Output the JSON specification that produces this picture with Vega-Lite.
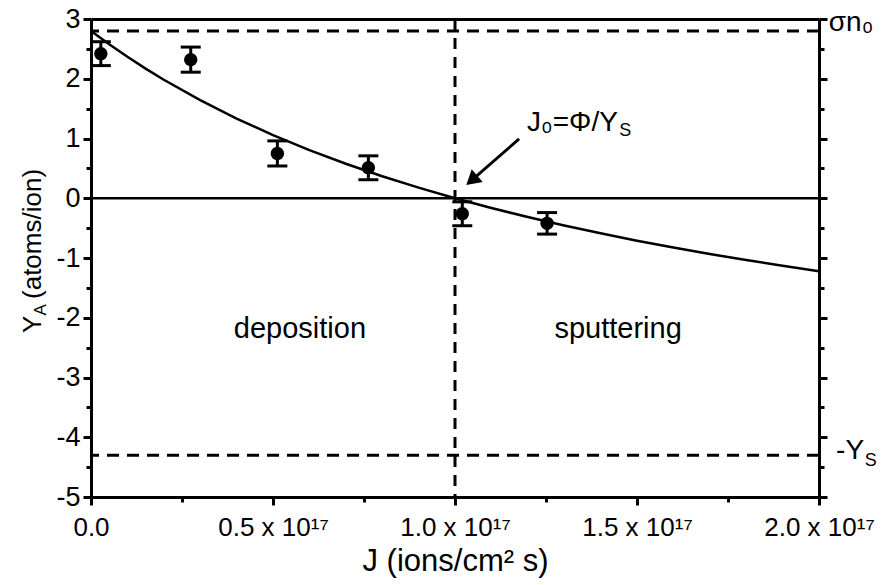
{
  "$schema": "https://vega.github.io/schema/vega-lite/v6.json",
  "width": 728,
  "height": 478,
  "autosize": "none",
  "padding": {"left": 91, "top": 19, "right": 70, "bottom": 88},
  "background": "white",
  "config": {
    "view": {"stroke": null},
    "font": "Liberation Sans",
    "axis": {"grid": false, "domainColor": "black", "tickColor": "black", "labelColor": "black", "titleColor": "black", "domainWidth": 3, "tickWidth": 3}
  },
  "datasets": {
    "pts": [
      {"J": 0.027, "Y": 2.42, "lo": 2.22, "hi": 2.62},
      {"J": 0.274, "Y": 2.32, "lo": 2.11, "hi": 2.53},
      {"J": 0.512, "Y": 0.75, "lo": 0.54, "hi": 0.96},
      {"J": 0.762, "Y": 0.51, "lo": 0.31, "hi": 0.71},
      {"J": 1.02, "Y": -0.26, "lo": -0.46, "hi": -0.06},
      {"J": 1.253, "Y": -0.42, "lo": -0.6, "hi": -0.24}
    ],
    "curve": [
      {"J": 0.0, "Y": 2.8}, {"J": 0.05, "Y": 2.577}, {"J": 0.1, "Y": 2.367}, {"J": 0.15, "Y": 2.17},
      {"J": 0.2, "Y": 1.983}, {"J": 0.3, "Y": 1.641}, {"J": 0.4, "Y": 1.334}, {"J": 0.5, "Y": 1.057},
      {"J": 0.6, "Y": 0.806}, {"J": 0.7, "Y": 0.578}, {"J": 0.8, "Y": 0.369}, {"J": 0.9, "Y": 0.177},
      {"J": 1.0, "Y": 0.0}, {"J": 1.1, "Y": -0.163}, {"J": 1.2, "Y": -0.315}, {"J": 1.3, "Y": -0.456},
      {"J": 1.4, "Y": -0.587}, {"J": 1.5, "Y": -0.71}, {"J": 1.6, "Y": -0.825}, {"J": 1.7, "Y": -0.933},
      {"J": 1.8, "Y": -1.034}, {"J": 1.9, "Y": -1.129}, {"J": 2.0, "Y": -1.22}
    ],
    "hdash": [{"Y": 2.8}, {"Y": -4.3}],
    "ctr": [
      {"x": 0.574, "y": -2.34, "t": "deposition"},
      {"x": 1.448, "y": -2.34, "t": "sputtering"}
    ],
    "lft": [
      {"x": 1.198, "y": 1.126, "t": "J₀=Φ/Y"},
      {"x": 2.027, "y": 2.8, "t": "σn₀"},
      {"x": 2.047, "y": -4.364, "t": "-Y"}
    ],
    "sub": [
      {"x": 1.451, "y": 1.042, "t": "S"},
      {"x": 2.126, "y": -4.481, "t": "S"}
    ]
  },
  "layer": [
    {
      "data": {"name": "pts"},
      "mark": {"type": "circle", "size": 180, "opacity": 1, "color": "black"},
      "encoding": {
        "x": {"field": "J", "type": "quantitative",
          "scale": {"domain": [0, 2], "nice": false, "zero": false},
          "axis": {
            "orient": "bottom",
            "values": [0, 0.25, 0.5, 0.75, 1, 1.25, 1.5, 1.75, 2],
            "labelExpr": "datum.value == 0 ? '0.0' : (datum.value % 0.5 == 0 ? format(datum.value, '.1f') + ' x 10¹⁷' : '')",
            "tickSize": {"condition": {"test": "datum.value % 0.5 == 0", "value": 8}, "value": 5},
            "labelFontSize": 26, "labelPadding": 9, "labelFlush": false, "labelOverlap": false,
            "title": "J (ions/cm² s)", "titleFontSize": 31, "titleFontWeight": "normal", "titlePadding": 6
          }},
        "y": {"field": "Y", "type": "quantitative",
          "scale": {"domain": [-5, 3], "nice": false, "zero": false},
          "axis": {
            "orient": "left",
            "values": [-5, -4.5, -4, -3.5, -3, -2.5, -2, -1.5, -1, -0.5, 0, 0.5, 1, 1.5, 2, 2.5, 3],
            "labelExpr": "datum.value % 1 == 0 ? '' + datum.value : ''",
            "tickSize": {"condition": {"test": "datum.value % 1 == 0", "value": 8}, "value": 5},
            "labelFontSize": 27, "labelPadding": 3, "labelOverlap": false, "labelFlush": false,
            "title": null
          }}
      }
    },
    {
      "data": {"name": "curve"},
      "mark": {"type": "line", "color": "black", "strokeWidth": 2.5},
      "encoding": {
        "x": {"field": "J", "type": "quantitative",
          "axis": {"orient": "top", "ticks": false, "labels": false, "title": null}},
        "y": {"field": "Y", "type": "quantitative",
          "axis": {
            "orient": "right",
            "values": [-5, -4.5, -4, -3.5, -3, -2.5, -2, -1.5, -1, -0.5, 0, 0.5, 1, 1.5, 2, 2.5, 3],
            "labels": false,
            "tickSize": {"condition": {"test": "datum.value % 1 == 0", "value": 8}, "value": 5},
            "title": null
          }}
      }
    },
    {
      "data": {"values": [{"Y": 0}]},
      "mark": {"type": "rule", "color": "black", "strokeWidth": 2.5},
      "encoding": {"y": {"field": "Y", "type": "quantitative", "axis": null}}
    },
    {
      "data": {"name": "hdash"},
      "mark": {"type": "rule", "color": "black", "strokeWidth": 3, "strokeDash": [12, 8]},
      "encoding": {"y": {"field": "Y", "type": "quantitative", "axis": null}}
    },
    {
      "data": {"values": [{"J": 1.0}]},
      "mark": {"type": "rule", "color": "black", "strokeWidth": 3, "strokeDash": [11, 8]},
      "encoding": {"x": {"field": "J", "type": "quantitative", "axis": null}}
    },
    {
      "data": {"name": "pts"},
      "mark": {"type": "rule", "color": "black", "strokeWidth": 3},
      "encoding": {
        "x": {"field": "J", "type": "quantitative", "axis": null},
        "y": {"field": "lo", "type": "quantitative", "axis": null},
        "y2": {"field": "hi"}
      }
    },
    {
      "data": {"name": "pts"},
      "mark": {"type": "tick", "color": "black", "orient": "horizontal", "size": 20, "thickness": 3, "opacity": 1},
      "encoding": {
        "x": {"field": "J", "type": "quantitative", "axis": null},
        "y": {"field": "lo", "type": "quantitative", "axis": null}
      }
    },
    {
      "data": {"name": "pts"},
      "mark": {"type": "tick", "color": "black", "orient": "horizontal", "size": 20, "thickness": 3, "opacity": 1},
      "encoding": {
        "x": {"field": "J", "type": "quantitative", "axis": null},
        "y": {"field": "hi", "type": "quantitative", "axis": null}
      }
    },
    {
      "data": {"values": [{"x1": 1.176, "y1": 0.992, "x2": 1.04, "y2": 0.27}]},
      "mark": {"type": "rule", "color": "black", "strokeWidth": 3},
      "encoding": {
        "x": {"field": "x1", "type": "quantitative", "axis": null},
        "y": {"field": "y1", "type": "quantitative", "axis": null},
        "x2": {"field": "x2"},
        "y2": {"field": "y2"}
      }
    },
    {
      "data": {"values": [{"x": 1.046, "y": 0.3}]},
      "mark": {"type": "point", "shape": "triangle-up", "filled": true, "color": "black", "opacity": 1, "size": 280, "angle": 229},
      "encoding": {
        "x": {"field": "x", "type": "quantitative", "axis": null},
        "y": {"field": "y", "type": "quantitative", "axis": null}
      }
    },
    {
      "data": {"name": "ctr"},
      "mark": {"type": "text", "fontSize": 29, "color": "black", "baseline": "alphabetic", "align": "center"},
      "encoding": {
        "x": {"field": "x", "type": "quantitative", "axis": null},
        "y": {"field": "y", "type": "quantitative", "axis": null},
        "text": {"field": "t"}
      }
    },
    {
      "data": {"name": "lft"},
      "mark": {"type": "text", "fontSize": 28, "color": "black", "baseline": "alphabetic", "align": "left"},
      "encoding": {
        "x": {"field": "x", "type": "quantitative", "axis": null},
        "y": {"field": "y", "type": "quantitative", "axis": null},
        "text": {"field": "t"}
      }
    },
    {
      "data": {"name": "sub"},
      "mark": {"type": "text", "fontSize": 18, "color": "black", "baseline": "alphabetic", "align": "left"},
      "encoding": {
        "x": {"field": "x", "type": "quantitative", "axis": null},
        "y": {"field": "y", "type": "quantitative", "axis": null},
        "text": {"field": "t"}
      }
    },
    {
      "data": {"values": [{"x": -0.137, "y": -2.255, "t": "Y"}, {"x": -0.137, "y": -1.686, "t": "(atoms/ion)"}]},
      "mark": {"type": "text", "fontSize": 26, "color": "black", "baseline": "alphabetic", "align": "left", "angle": 270},
      "encoding": {
        "x": {"field": "x", "type": "quantitative", "axis": null},
        "y": {"field": "y", "type": "quantitative", "axis": null},
        "text": {"field": "t"}
      }
    },
    {
      "data": {"values": [{"x": -0.124, "y": -1.962, "t": "A"}]},
      "mark": {"type": "text", "fontSize": 17, "color": "black", "baseline": "alphabetic", "align": "left", "angle": 270},
      "encoding": {
        "x": {"field": "x", "type": "quantitative", "axis": null},
        "y": {"field": "y", "type": "quantitative", "axis": null},
        "text": {"field": "t"}
      }
    }
  ],
  "resolve": {"axis": {"x": "independent", "y": "independent"}}
}
